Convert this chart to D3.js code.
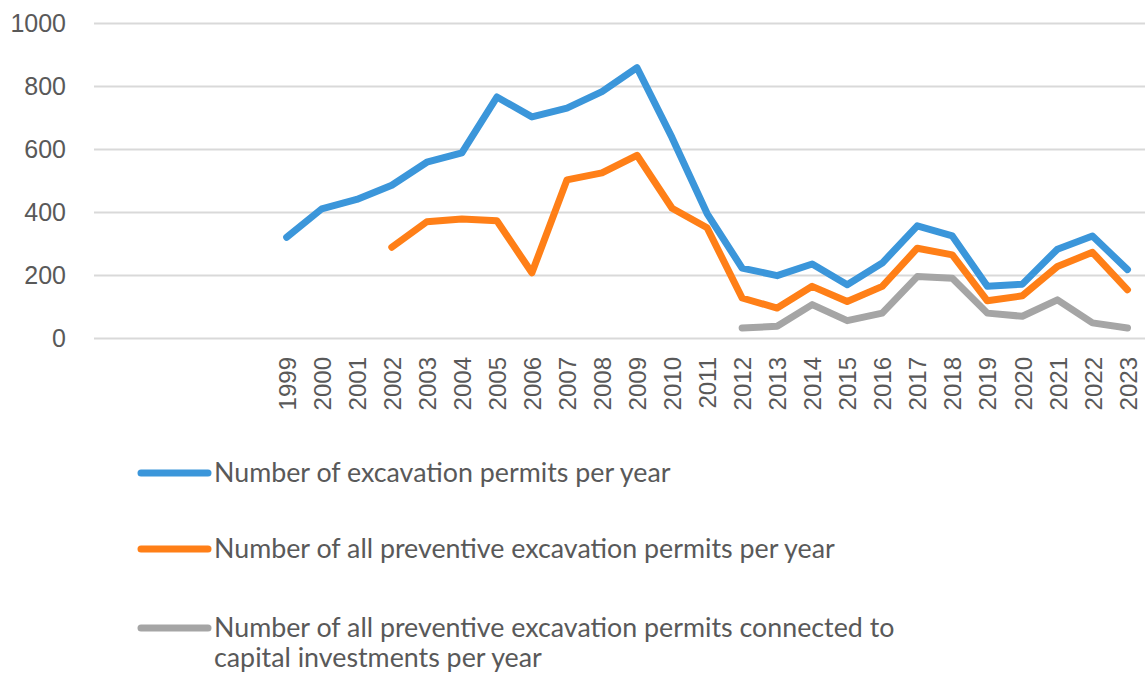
<!DOCTYPE html>
<html>
<head>
<meta charset="utf-8">
<script src="https://cdn.jsdelivr.net/npm/d3@7"></script>
<style>
  html, body { margin: 0; padding: 0; background: #fff; }
  svg { display: block; }
</style>
</head>
<body>
<svg id="chart" width="1145" height="674"></svg>
<script>
// Years on the category axis
const years = [1999, 2000, 2001, 2002, 2003, 2004, 2005, 2006, 2007, 2008, 2009, 2010,
  2011, 2012, 2013, 2014, 2015, 2016, 2017, 2018, 2019, 2020, 2021, 2022, 2023];

// Number of excavation permits per year
const permits = [320, 410, 440, 485, 558, 588, 765, 702, 730, 782, 858, 636,
  395, 222, 198, 235, 169, 238, 356, 324, 164, 171, 282, 324, 217];

// Number of all preventive excavation permits per year (from 2002)
const preventive = [null, null, null, 288, 369, 378, 372, 207, 502, 524, 580, 412,
  350, 127, 95, 164, 116, 164, 285, 264, 118, 134, 227, 272, 153];

// Preventive permits connected to capital investments (from 2012)
const capital = [null, null, null, null, null, null, null, null, null, null, null, null,
  null, 32, 37, 106, 55, 79, 195, 190, 79, 69, 121, 48, 32];

const yTicks = [0, 200, 400, 600, 800, 1000];

const seriesNames = [
  ["Number of excavation permits per year"],
  ["Number of all preventive excavation permits per year"],
  ["Number of all preventive excavation permits connected to", "capital investments per year"]
];
const seriesColors = ["#3b96da", "#ff7f17", "#a5a5a5"];

const svg = d3.select("#chart");
const textColor = "#595959";

const plot = { left: 94, right: 1145, top: 23, bottom: 338 };

// The category axis reserves five empty slots ahead of the first year
const x = d3.scaleLinear()
  .domain([years[0] - 5.5, years[years.length - 1] + 0.5])
  .range([plot.left, plot.right]);

const y = d3.scaleLinear()
  .domain([0, 1000])
  .range([plot.bottom, plot.top]);

// Horizontal gridlines and value labels
const yAxis = d3.axisLeft(y)
  .tickValues(yTicks)
  .tickFormat(d3.format("d"))
  .tickSize(-(plot.right - plot.left))
  .tickPadding(28);

svg.append("g")
  .attr("transform", `translate(${plot.left},0)`)
  .call(yAxis)
  .call(g => g.select(".domain").remove())
  .call(g => g.selectAll(".tick line").attr("stroke", "#d9d9d9").attr("stroke-width", 2))
  .call(g => g.selectAll(".tick text")
    .attr("fill", textColor)
    .attr("font-family", "'Liberation Sans', Arial, sans-serif")
    .attr("font-size", 25));

// Year labels, rotated
const xAxis = d3.axisBottom(x)
  .tickValues(years)
  .tickFormat(d3.format("d"))
  .tickSize(0);

svg.append("g")
  .attr("transform", `translate(0,${plot.bottom})`)
  .call(xAxis)
  .call(g => g.select(".domain").remove())
  .call(g => g.selectAll(".tick text")
    .attr("fill", textColor)
    .attr("font-family", "'Liberation Sans', Arial, sans-serif")
    .attr("font-size", 24)
    .attr("transform", "rotate(-90)")
    .attr("text-anchor", "end")
    .attr("x", -19)
    .attr("y", 0)
    .attr("dy", "0.36em"));

// Series lines
const line = d3.line()
  .defined(d => d.v != null)
  .x(d => x(d.year))
  .y(d => y(d.v));

[permits, preventive, capital].forEach((vals, i) => {
  const pts = years.map((yr, j) => ({ year: yr, v: vals[j] }));
  svg.append("path")
    .datum(pts)
    .attr("fill", "none")
    .attr("stroke", seriesColors[i])
    .attr("stroke-width", 7)
    .attr("stroke-linejoin", "round")
    .attr("stroke-linecap", "round")
    .attr("d", line);
});

// Legend
const legendRows = [473, 549, 628];
const legend = svg.append("g");
seriesNames.forEach((lines, i) => {
  const g = legend.append("g").attr("transform", `translate(0,${legendRows[i]})`);
  g.append("line")
    .attr("x1", 141).attr("x2", 208)
    .attr("y1", 0).attr("y2", 0)
    .attr("stroke", seriesColors[i])
    .attr("stroke-width", 7)
    .attr("stroke-linecap", "round");
  lines.forEach((t, k) => {
    g.append("text")
      .attr("x", 214)
      .attr("y", k * 30)
      .attr("dy", "0.35em")
      .attr("fill", textColor)
      .attr("font-family", "Lato, 'Open Sans', sans-serif")
      .attr("font-size", 26.8)
      .text(t);
  });
});
</script>
</body>
</html>
